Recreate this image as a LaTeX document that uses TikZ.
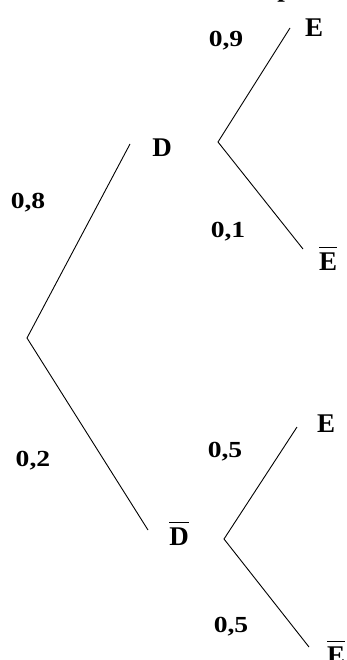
\documentclass[tikz,border=0pt]{standalone}
\usepackage{fontspec}
\usepackage{graphicx}
\setmainfont{Liberation Serif}
\tikzset{
  branch/.style={draw=black, line width=0.9pt},
  event/.style={anchor=base, inner sep=0pt, font=\fontsize{27}{29}\selectfont\bfseries},
  prob/.style={anchor=base, inner sep=0pt, font=\fontsize{23}{25}\selectfont\bfseries},
}
\newcommand{\barred}[1]{\vbox{\hrule height 1.6pt\kern 4pt\hbox{#1}}}
\newcommand{\wprob}[1]{\scalebox{1.2}[1]{#1}}
\begin{document}
\begin{tikzpicture}[x=1pt, y=-1pt]
\useasboundingbox (0,0) rectangle (346,660);
% cut-off text fragment at the very top
\node[event] (frag) at (285,-3) {p};
% branch end points
\coordinate (root) at (27,338);
\coordinate (dtip) at (130,144);
\coordinate (dbtip) at (148,530);
\coordinate (v1) at (218,142);
\coordinate (v2) at (224,539);
\coordinate (e1) at (290,28);
\coordinate (eb1) at (303,249);
\coordinate (e2) at (297,427);
\coordinate (eb2) at (309,647);
% branches
\draw[branch] (dtip) -- (root) -- (dbtip);
\draw[branch] (e1) -- (v1) -- (eb1);
\draw[branch] (e2) -- (v2) -- (eb2);
% events
\node[event] (D) at (162,157) {D};
\node[event] (Db) at (179,545) {\barred{D}};
\node[event] (E1) at (314,37) {E};
\node[event] (Eb1) at (328,270) {\barred{E}};
\node[event] (E2) at (326,432) {E};
\node[event] (Eb2) at (336,664) {\barred{E}};
% probabilities
\node[prob] (p09) at (226,47) {\wprob{0,9}};
\node[prob] (p08) at (28,208) {\wprob{0,8}};
\node[prob] (p01) at (228,237) {\wprob{0,1}};
\node[prob] (p02) at (33,466) {\wprob{0,2}};
\node[prob] (p05a) at (225,457) {\wprob{0,5}};
\node[prob] (p05b) at (231,632) {\wprob{0,5}};
\end{tikzpicture}
\end{document}
